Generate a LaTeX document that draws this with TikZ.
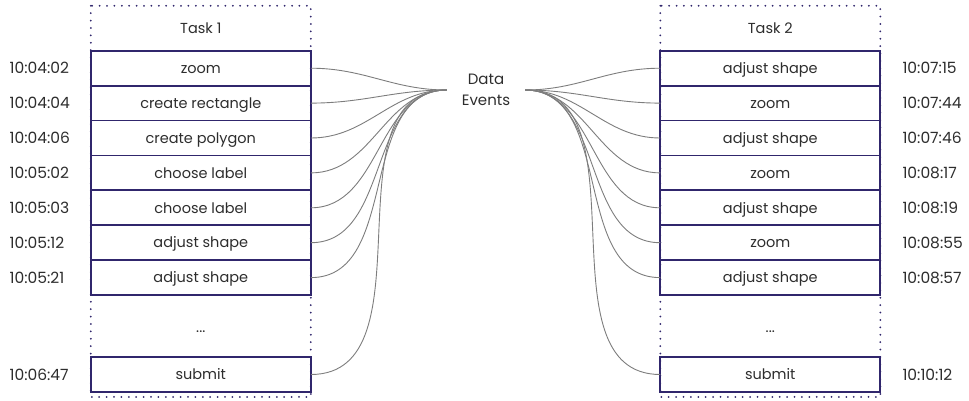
\documentclass[tikz,border=0pt]{standalone}
\usepackage{fontspec}
\setmainfont{Poppins}
\definecolor{navy}{RGB}{48,38,108}
\definecolor{wiregray}{RGB}{125,125,125}
\definecolor{textgray}{RGB}{45,45,45}
\usetikzlibrary{positioning}

\begin{document}
\begin{tikzpicture}[x=1pt, y=-1pt,
        font=\fontsize{14.5}{17}\selectfont\color{textgray},
        row/.style={rectangle, draw=navy, line width=1.8pt, outer sep=0pt,
                    minimum width=220pt, minimum height=34.9pt, inner sep=0pt,
                    text height=12pt, text depth=1.5pt},
        head/.style={rectangle, outer sep=0pt, minimum width=220pt,
                     minimum height=45pt, inner sep=0pt},
        gap/.style={rectangle, outer sep=0pt, minimum width=220pt,
                    minimum height=62pt, inner sep=0pt,
                    text height=12pt, text depth=0pt},
        dotbox/.style={draw=navy, line width=2pt, line cap=round,
                       dash pattern=on 0pt off 7.4pt},
        stamp/.style={inner sep=0pt, text width=62pt, align=left,
                      font=\fontsize{15.5}{18}\selectfont\color{textgray}},
        wire/.style={wiregray, line width=0.9pt}
    ]
        \useasboundingbox (0,0) rectangle (969,400);

        % Task 1
        \node[row] (a1) at (200.8,68.2) {zoom};
        \node[row, below=0pt of a1] (a2) {create rectangle};
        \node[row, below=0pt of a2] (a3) {create polygon};
        \node[row, below=0pt of a3] (a4) {choose label};
        \node[row, below=0pt of a4] (a5) {choose label};
        \node[row, below=0pt of a5] (a6) {adjust shape};
        \node[row, below=0pt of a6] (a7) {adjust shape};
        \node[gap, below=0pt of a7] (adots) {...};
        \node[row, below=0pt of adots] (a8) {submit};
        \node[head, above=0pt of a1] (ahead) {Task 1};
        \draw[dotbox] (ahead.north west) rectangle ([yshift=-5pt]a8.south east);

        % Task 2
        \node[row] (b1) at (770.3,68.2) {adjust shape};
        \node[row, below=0pt of b1] (b2) {zoom};
        \node[row, below=0pt of b2] (b3) {adjust shape};
        \node[row, below=0pt of b3] (b4) {zoom};
        \node[row, below=0pt of b4] (b5) {adjust shape};
        \node[row, below=0pt of b5] (b6) {zoom};
        \node[row, below=0pt of b6] (b7) {adjust shape};
        \node[gap, below=0pt of b7] (bdots) {...};
        \node[row, below=0pt of bdots] (b8) {submit};
        \node[head, above=0pt of b1] (bhead) {Task 2};
        \draw[dotbox] (bhead.north west) rectangle ([yshift=-5pt]b8.south east);

        % timestamps
        \node[stamp, left=19pt of a1] {10:04:02};
        \node[stamp, left=19pt of a2] {10:04:04};
        \node[stamp, left=19pt of a3] {10:04:06};
        \node[stamp, left=19pt of a4] {10:05:02};
        \node[stamp, left=19pt of a5] {10:05:03};
        \node[stamp, left=19pt of a6] {10:05:12};
        \node[stamp, left=19pt of a7] {10:05:21};
        \node[stamp, left=19pt of a8] {10:06:47};
        \node[stamp, right=22pt of b1] {10:07:15};
        \node[stamp, right=22pt of b2] {10:07:44};
        \node[stamp, right=22pt of b3] {10:07:46};
        \node[stamp, right=22pt of b4] {10:08:17};
        \node[stamp, right=22pt of b5] {10:08:19};
        \node[stamp, right=22pt of b6] {10:08:55};
        \node[stamp, right=22pt of b7] {10:08:57};
        \node[stamp, right=22pt of b8] {10:10:12};

        % data events
        \node[inner sep=0pt, minimum width=78pt, align=center,
              font=\fontsize{15}{21}\selectfont\color{textgray}] (events) at (486,90) {Data\\Events};
        \draw[wire] (a1.east) to[out=0, in=180] (events.west);
        \draw[wire] (a2.east) to[out=0, in=180] (events.west);
        \draw[wire] (a3.east) to[out=0, in=180] (events.west);
        \draw[wire] (a4.east) to[out=0, in=180] (events.west);
        \draw[wire] (a5.east) to[out=0, in=180] (events.west);
        \draw[wire] (a6.east) to[out=0, in=180] (events.west);
        \draw[wire] (a7.east) to[out=0, in=180] (events.west);
        \draw[wire] (a8.east) to[out=0, in=180] (events.west);
        \draw[wire] (events.east) to[out=0, in=180] (b1.west);
        \draw[wire] (events.east) to[out=0, in=180] (b2.west);
        \draw[wire] (events.east) to[out=0, in=180] (b3.west);
        \draw[wire] (events.east) to[out=0, in=180] (b4.west);
        \draw[wire] (events.east) to[out=0, in=180] (b5.west);
        \draw[wire] (events.east) to[out=0, in=180] (b6.west);
        \draw[wire] (events.east) to[out=0, in=180] (b7.west);
        \draw[wire] (events.east) to[out=0, in=180] (b8.west);
    \end{tikzpicture}
\end{document}
